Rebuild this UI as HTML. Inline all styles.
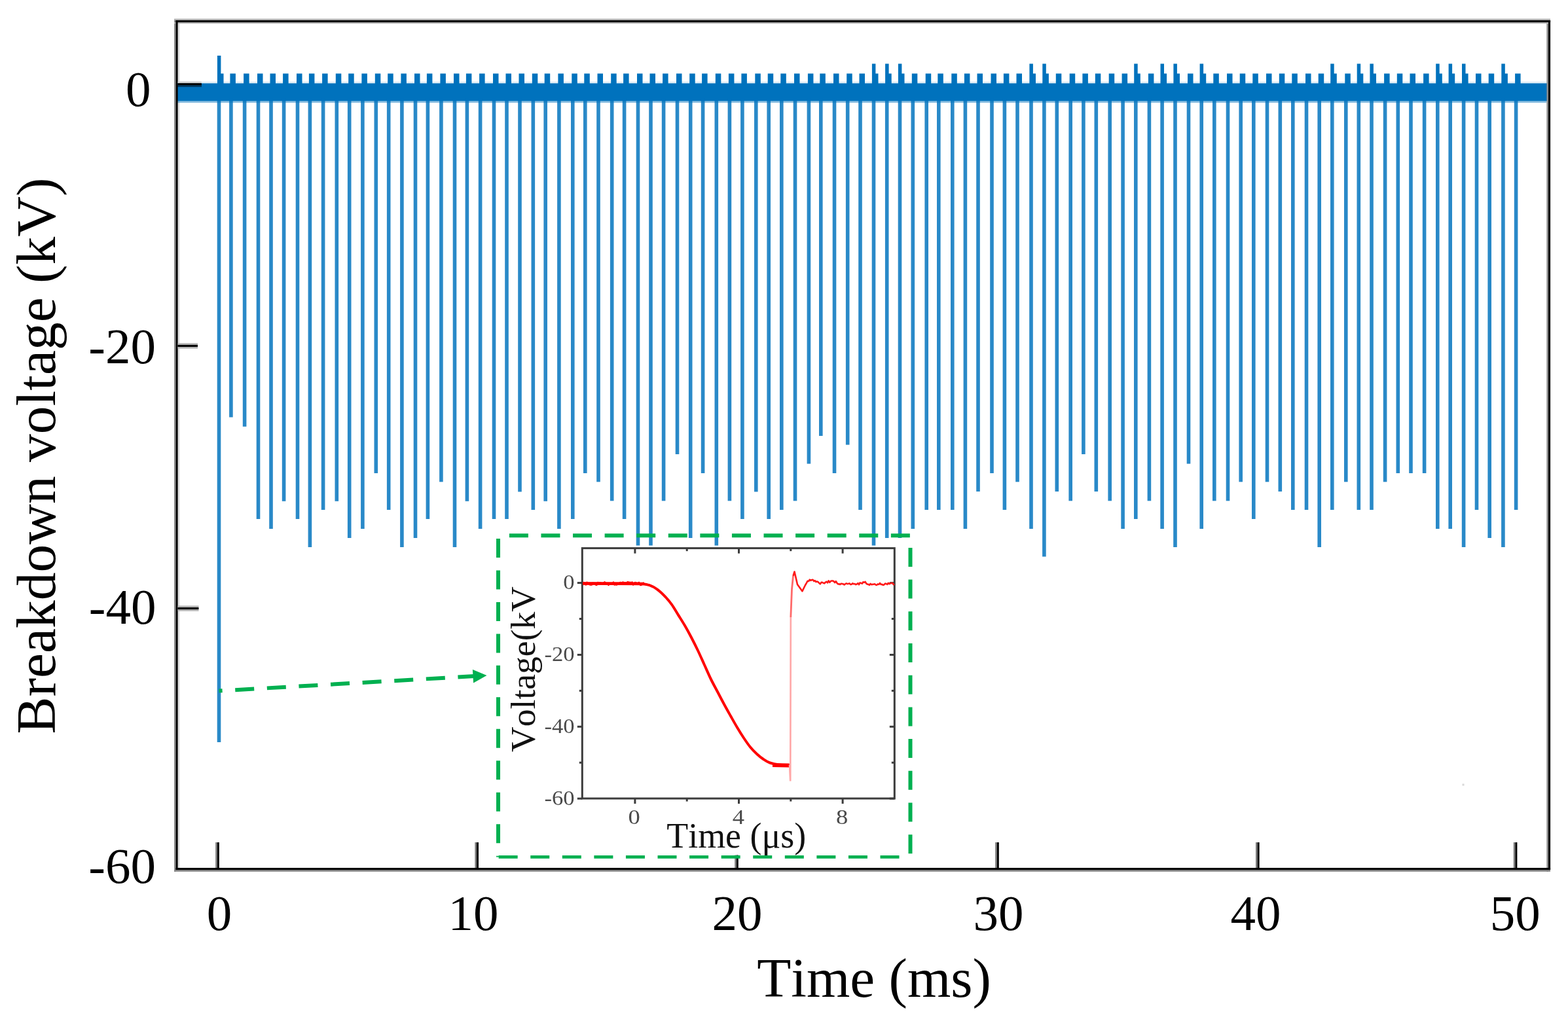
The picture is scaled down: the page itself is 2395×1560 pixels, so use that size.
<!DOCTYPE html>
<html><head><meta charset="utf-8"><title>Breakdown voltage vs time</title>
<style>
html,body{margin:0;padding:0;background:#fff;}
svg{display:block;}
text{font-family:"Liberation Serif","Times New Roman",serif;font-kerning:none;}
</style></head><body>
<svg width="2395" height="1560" viewBox="0 0 2395 1560">
<rect x="0" y="0" width="2395" height="1560" fill="#fff"/>
<rect x="271.6" y="36" width="2.8" height="1290" fill="#dedede"/>
<g fill="#0072BD">
<rect x="271" y="127.3" width="2094" height="27.2"/>
<rect x="271" y="154.5" width="2091" height="2.6" opacity="0.45"/>
<rect x="271" y="124.6" width="2091" height="2.7" opacity="0.12"/>
<rect x="331.7" y="150" width="5.6" height="984" opacity="0.84"/><rect x="333" y="112.4" width="8.5" height="16"/><rect x="331.9" y="85" width="5.5" height="44"/>
<rect x="350.1" y="150" width="5.6" height="487.5" opacity="0.84"/><rect x="351.4" y="112.4" width="8.5" height="16"/>
<rect x="370.8" y="150" width="5.6" height="501.8" opacity="0.84"/><rect x="372.1" y="112.4" width="8.5" height="16"/>
<rect x="391.7" y="150" width="5.6" height="643" opacity="0.84"/><rect x="393" y="112.4" width="8.5" height="16"/>
<rect x="411.2" y="150" width="5.6" height="658" opacity="0.84"/><rect x="412.5" y="112.4" width="8.5" height="16"/>
<rect x="430.8" y="150" width="5.6" height="615.8" opacity="0.84"/><rect x="432.1" y="112.4" width="8.5" height="16"/>
<rect x="451.7" y="150" width="5.6" height="643" opacity="0.84"/><rect x="453" y="112.4" width="8.5" height="16"/>
<rect x="470.6" y="150" width="5.6" height="686" opacity="0.84"/><rect x="471.9" y="112.4" width="8.5" height="16"/>
<rect x="490.8" y="150" width="5.6" height="629" opacity="0.84"/><rect x="492.1" y="112.4" width="8.5" height="16"/>
<rect x="511.5" y="150" width="5.6" height="615.8" opacity="0.84"/><rect x="512.8" y="112.4" width="8.5" height="16"/>
<rect x="530.9" y="150" width="5.6" height="672" opacity="0.84"/><rect x="532.2" y="112.4" width="8.5" height="16"/>
<rect x="551.1" y="150" width="5.6" height="658" opacity="0.84"/><rect x="552.4" y="112.4" width="8.5" height="16"/>
<rect x="571.5" y="150" width="5.6" height="573" opacity="0.84"/><rect x="572.8" y="112.4" width="8.5" height="16"/>
<rect x="590.9" y="150" width="5.6" height="629" opacity="0.84"/><rect x="592.2" y="112.4" width="8.5" height="16"/>
<rect x="611.1" y="150" width="5.6" height="686" opacity="0.84"/><rect x="612.4" y="112.4" width="8.5" height="16"/>
<rect x="631.7" y="150" width="5.6" height="672" opacity="0.84"/><rect x="633" y="112.4" width="8.5" height="16"/>
<rect x="650.6" y="150" width="5.6" height="643" opacity="0.84"/><rect x="651.9" y="112.4" width="8.5" height="16"/>
<rect x="671.1" y="150" width="5.6" height="586.3" opacity="0.84"/><rect x="672.4" y="112.4" width="8.5" height="16"/>
<rect x="691.7" y="150" width="5.6" height="686" opacity="0.84"/><rect x="693" y="112.4" width="8.5" height="16"/>
<rect x="710.6" y="150" width="5.6" height="615.8" opacity="0.84"/><rect x="711.9" y="112.4" width="8.5" height="16"/>
<rect x="730.8" y="150" width="5.6" height="658" opacity="0.84"/><rect x="732.1" y="112.4" width="8.5" height="16"/>
<rect x="751.7" y="150" width="5.6" height="643" opacity="0.84"/><rect x="753" y="112.4" width="8.5" height="16"/>
<rect x="771.2" y="150" width="5.6" height="643" opacity="0.84"/><rect x="772.5" y="112.4" width="8.5" height="16"/>
<rect x="791.2" y="150" width="5.6" height="601.4" opacity="0.84"/><rect x="792.5" y="112.4" width="8.5" height="16"/>
<rect x="811.5" y="150" width="5.6" height="629" opacity="0.84"/><rect x="812.8" y="112.4" width="8.5" height="16"/>
<rect x="830.4" y="150" width="5.6" height="615.8" opacity="0.84"/><rect x="831.7" y="112.4" width="8.5" height="16"/>
<rect x="851.1" y="150" width="5.6" height="658" opacity="0.84"/><rect x="852.4" y="112.4" width="8.5" height="16"/>
<rect x="872" y="150" width="5.6" height="643" opacity="0.84"/><rect x="873.3" y="112.4" width="8.5" height="16"/>
<rect x="891" y="150" width="5.6" height="573" opacity="0.84"/><rect x="892.3" y="112.4" width="8.5" height="16"/>
<rect x="911.2" y="150" width="5.6" height="586.3" opacity="0.84"/><rect x="912.5" y="112.4" width="8.5" height="16"/>
<rect x="931.9" y="150" width="5.6" height="615.3" opacity="0.84"/><rect x="933.2" y="112.4" width="8.5" height="16"/>
<rect x="950.8" y="150" width="5.6" height="643" opacity="0.84"/><rect x="952.1" y="112.4" width="8.5" height="16"/>
<rect x="971.7" y="150" width="5.6" height="700" opacity="0.84"/><rect x="973" y="112.4" width="8.5" height="16"/>
<rect x="991.2" y="150" width="5.6" height="700" opacity="0.84"/><rect x="992.5" y="112.4" width="8.5" height="16"/>
<rect x="1010.8" y="150" width="5.6" height="615.3" opacity="0.84"/><rect x="1012.1" y="112.4" width="8.5" height="16"/>
<rect x="1031.7" y="150" width="5.6" height="544" opacity="0.84"/><rect x="1033" y="112.4" width="8.5" height="16"/>
<rect x="1051.9" y="150" width="5.6" height="672" opacity="0.84"/><rect x="1053.2" y="112.4" width="8.5" height="16"/>
<rect x="1070.8" y="150" width="5.6" height="573" opacity="0.84"/><rect x="1072.1" y="112.4" width="8.5" height="16"/>
<rect x="1091.5" y="150" width="5.6" height="700" opacity="0.84"/><rect x="1092.8" y="112.4" width="8.5" height="16"/>
<rect x="1111.6" y="150" width="5.6" height="615.3" opacity="0.84"/><rect x="1112.9" y="112.4" width="8.5" height="16"/>
<rect x="1131.1" y="150" width="5.6" height="643" opacity="0.84"/><rect x="1132.4" y="112.4" width="8.5" height="16"/>
<rect x="1152" y="150" width="5.6" height="601.4" opacity="0.84"/><rect x="1153.3" y="112.4" width="8.5" height="16"/>
<rect x="1171.4" y="150" width="5.6" height="643" opacity="0.84"/><rect x="1172.7" y="112.4" width="8.5" height="16"/>
<rect x="1191" y="150" width="5.6" height="629" opacity="0.84"/><rect x="1192.3" y="112.4" width="8.5" height="16"/>
<rect x="1211.7" y="150" width="5.6" height="615.3" opacity="0.84"/><rect x="1213" y="112.4" width="8.5" height="16"/>
<rect x="1232.6" y="150" width="5.6" height="558.6" opacity="0.84"/><rect x="1233.9" y="112.4" width="8.5" height="16"/>
<rect x="1251" y="150" width="5.6" height="516" opacity="0.84"/><rect x="1252.3" y="112.4" width="8.5" height="16"/>
<rect x="1271.7" y="150" width="5.6" height="573" opacity="0.84"/><rect x="1273" y="112.4" width="8.5" height="16"/>
<rect x="1291.9" y="150" width="5.6" height="529.6" opacity="0.84"/><rect x="1293.2" y="112.4" width="8.5" height="16"/>
<rect x="1311.2" y="150" width="5.6" height="629" opacity="0.84"/><rect x="1312.5" y="112.4" width="8.5" height="16"/>
<rect x="1331.7" y="150" width="5.6" height="686" opacity="0.84"/><rect x="1333" y="112.4" width="8.5" height="16"/><rect x="1331.9" y="97.4" width="5.5" height="31"/>
<rect x="1351.9" y="150" width="5.6" height="672" opacity="0.84"/><rect x="1353.2" y="112.4" width="8.5" height="16"/><rect x="1352.1" y="97.4" width="5.5" height="31"/>
<rect x="1371.7" y="150" width="5.6" height="672" opacity="0.84"/><rect x="1373" y="112.4" width="8.5" height="16"/><rect x="1371.9" y="97.4" width="5.5" height="31"/>
<rect x="1391.5" y="150" width="5.6" height="658" opacity="0.84"/><rect x="1392.8" y="112.4" width="8.5" height="16"/>
<rect x="1412.4" y="150" width="5.6" height="629" opacity="0.84"/><rect x="1413.7" y="112.4" width="8.5" height="16"/>
<rect x="1431" y="150" width="5.6" height="629" opacity="0.84"/><rect x="1432.3" y="112.4" width="8.5" height="16"/>
<rect x="1452" y="150" width="5.6" height="629" opacity="0.84"/><rect x="1453.3" y="112.4" width="8.5" height="16"/>
<rect x="1471.6" y="150" width="5.6" height="658" opacity="0.84"/><rect x="1472.9" y="112.4" width="8.5" height="16"/>
<rect x="1491.2" y="150" width="5.6" height="601" opacity="0.84"/><rect x="1492.5" y="112.4" width="8.5" height="16"/>
<rect x="1512.2" y="150" width="5.6" height="573" opacity="0.84"/><rect x="1513.5" y="112.4" width="8.5" height="16"/>
<rect x="1531.6" y="150" width="5.6" height="629" opacity="0.84"/><rect x="1532.9" y="112.4" width="8.5" height="16"/>
<rect x="1551.2" y="150" width="5.6" height="586.3" opacity="0.84"/><rect x="1552.5" y="112.4" width="8.5" height="16"/>
<rect x="1572.2" y="150" width="5.6" height="658" opacity="0.84"/><rect x="1573.5" y="112.4" width="8.5" height="16"/><rect x="1572.4" y="97.4" width="5.5" height="31"/>
<rect x="1592.1" y="150" width="5.6" height="700.5" opacity="0.84"/><rect x="1593.4" y="112.4" width="8.5" height="16"/><rect x="1592.3" y="97.4" width="5.5" height="31"/>
<rect x="1611.5" y="150" width="5.6" height="601" opacity="0.84"/><rect x="1612.8" y="112.4" width="8.5" height="16"/>
<rect x="1632.4" y="150" width="5.6" height="615.3" opacity="0.84"/><rect x="1633.7" y="112.4" width="8.5" height="16"/>
<rect x="1652.1" y="150" width="5.6" height="544" opacity="0.84"/><rect x="1653.4" y="112.4" width="8.5" height="16"/>
<rect x="1671.5" y="150" width="5.6" height="601" opacity="0.84"/><rect x="1672.8" y="112.4" width="8.5" height="16"/>
<rect x="1692.4" y="150" width="5.6" height="615.3" opacity="0.84"/><rect x="1693.7" y="112.4" width="8.5" height="16"/>
<rect x="1712.3" y="150" width="5.6" height="658" opacity="0.84"/><rect x="1713.6" y="112.4" width="8.5" height="16"/>
<rect x="1732" y="150" width="5.6" height="643" opacity="0.84"/><rect x="1733.3" y="112.4" width="8.5" height="16"/><rect x="1732.2" y="97.4" width="5.5" height="31"/>
<rect x="1752.6" y="150" width="5.6" height="615.3" opacity="0.84"/><rect x="1753.9" y="112.4" width="8.5" height="16"/>
<rect x="1772.3" y="150" width="5.6" height="658" opacity="0.84"/><rect x="1773.6" y="112.4" width="8.5" height="16"/><rect x="1772.5" y="97.4" width="5.5" height="31"/>
<rect x="1792.2" y="150" width="5.6" height="686" opacity="0.84"/><rect x="1793.5" y="112.4" width="8.5" height="16"/><rect x="1792.4" y="97.4" width="5.5" height="31"/>
<rect x="1812.7" y="150" width="5.6" height="558.6" opacity="0.84"/><rect x="1814" y="112.4" width="8.5" height="16"/>
<rect x="1832.4" y="150" width="5.6" height="658" opacity="0.84"/><rect x="1833.7" y="112.4" width="8.5" height="16"/><rect x="1832.6" y="97.4" width="5.5" height="31"/>
<rect x="1852" y="150" width="5.6" height="615.3" opacity="0.84"/><rect x="1853.3" y="112.4" width="8.5" height="16"/>
<rect x="1872.7" y="150" width="5.6" height="615.3" opacity="0.84"/><rect x="1874" y="112.4" width="8.5" height="16"/>
<rect x="1892.4" y="150" width="5.6" height="586.3" opacity="0.84"/><rect x="1893.7" y="112.4" width="8.5" height="16"/>
<rect x="1912" y="150" width="5.6" height="643" opacity="0.84"/><rect x="1913.3" y="112.4" width="8.5" height="16"/>
<rect x="1932.7" y="150" width="5.6" height="586.3" opacity="0.84"/><rect x="1934" y="112.4" width="8.5" height="16"/>
<rect x="1952.5" y="150" width="5.6" height="601" opacity="0.84"/><rect x="1953.8" y="112.4" width="8.5" height="16"/>
<rect x="1972" y="150" width="5.6" height="629" opacity="0.84"/><rect x="1973.3" y="112.4" width="8.5" height="16"/>
<rect x="1992.7" y="150" width="5.6" height="629" opacity="0.84"/><rect x="1994" y="112.4" width="8.5" height="16"/>
<rect x="2012.4" y="150" width="5.6" height="686" opacity="0.84"/><rect x="2013.7" y="112.4" width="8.5" height="16"/>
<rect x="2032" y="150" width="5.6" height="629" opacity="0.84"/><rect x="2033.3" y="112.4" width="8.5" height="16"/><rect x="2032.2" y="97.4" width="5.5" height="31"/>
<rect x="2053" y="150" width="5.6" height="586.3" opacity="0.84"/><rect x="2054.3" y="112.4" width="8.5" height="16"/>
<rect x="2072.5" y="150" width="5.6" height="629" opacity="0.84"/><rect x="2073.8" y="112.4" width="8.5" height="16"/><rect x="2072.7" y="97.4" width="5.5" height="31"/>
<rect x="2092.2" y="150" width="5.6" height="629" opacity="0.84"/><rect x="2093.5" y="112.4" width="8.5" height="16"/><rect x="2092.4" y="97.4" width="5.5" height="31"/>
<rect x="2112.8" y="150" width="5.6" height="586.3" opacity="0.84"/><rect x="2114.1" y="112.4" width="8.5" height="16"/>
<rect x="2132.5" y="150" width="5.6" height="573" opacity="0.84"/><rect x="2133.8" y="112.4" width="8.5" height="16"/>
<rect x="2152.2" y="150" width="5.6" height="573" opacity="0.84"/><rect x="2153.5" y="112.4" width="8.5" height="16"/>
<rect x="2172.8" y="150" width="5.6" height="573" opacity="0.84"/><rect x="2174.1" y="112.4" width="8.5" height="16"/>
<rect x="2193" y="150" width="5.6" height="658" opacity="0.84"/><rect x="2194.3" y="112.4" width="8.5" height="16"/><rect x="2193.2" y="97.4" width="5.5" height="31"/>
<rect x="2212.4" y="150" width="5.6" height="658" opacity="0.84"/><rect x="2213.7" y="112.4" width="8.5" height="16"/><rect x="2212.6" y="97.4" width="5.5" height="31"/>
<rect x="2232.8" y="150" width="5.6" height="686" opacity="0.84"/><rect x="2234.1" y="112.4" width="8.5" height="16"/><rect x="2233" y="97.4" width="5.5" height="31"/>
<rect x="2252.7" y="150" width="5.6" height="629" opacity="0.84"/><rect x="2254" y="112.4" width="8.5" height="16"/>
<rect x="2272.4" y="150" width="5.6" height="672" opacity="0.84"/><rect x="2273.7" y="112.4" width="8.5" height="16"/>
<rect x="2293.1" y="150" width="5.6" height="686" opacity="0.84"/><rect x="2294.4" y="112.4" width="8.5" height="16"/><rect x="2293.3" y="97.4" width="5.5" height="31"/>
<rect x="2312.8" y="150" width="5.6" height="629" opacity="0.84"/><rect x="2314.1" y="112.4" width="8.5" height="16"/>
</g>
<rect x="271" y="130.3" width="37" height="2.6" fill="#003a62"/>
<g fill="#8a8a8a">
<rect x="266" y="30" width="2.6" height="1302"/><rect x="2362.4" y="30" width="2.6" height="1302"/><rect x="266" y="1329" width="2102" height="2.8"/><rect x="266" y="28.6" width="2102" height="2.4" fill="#b0b0b0"/><rect x="266" y="34" width="2102" height="2.2" fill="#b8b8b8"/>
</g>
<g fill="#000">
<rect x="268.5" y="31" width="3.1" height="1298"/><rect x="2365" y="31" width="3.1" height="1298"/><rect x="268.5" y="1326" width="2099.6" height="3.1"/><rect x="268.5" y="31" width="2099.6" height="3.1"/>
</g>
<rect x="271.6" y="524.3" width="30.4" height="2.6" fill="#b4b4b4"/><rect x="271.6" y="530" width="30.4" height="2.6" fill="#b4b4b4"/><rect x="271.6" y="526.9" width="30.4" height="3.1" fill="#000"/>
<rect x="271.6" y="925.45" width="31.9" height="2.6" fill="#b4b4b4"/><rect x="271.6" y="931.15" width="31.9" height="2.6" fill="#b4b4b4"/><rect x="271.6" y="928.05" width="31.9" height="3.1" fill="#000"/>
<rect x="271.6" y="124.5" width="36" height="2.6" fill="#cfcfcf"/><rect x="271.6" y="127.1" width="36.3" height="3.2" fill="#000"/>
<rect x="329.2" y="1287" width="2.6" height="39" fill="#7a7a7a"/><rect x="331.8" y="1287" width="3" height="39" fill="#000"/>
<rect x="725.4" y="1287" width="2.6" height="39" fill="#7a7a7a"/><rect x="728" y="1287" width="3" height="39" fill="#000"/>
<rect x="1122.2" y="1287" width="2.6" height="39" fill="#7a7a7a"/><rect x="1124.8" y="1287" width="3" height="39" fill="#000"/>
<rect x="1520.2" y="1287" width="2.6" height="39" fill="#7a7a7a"/><rect x="1522.8" y="1287" width="3" height="39" fill="#000"/>
<rect x="1918" y="1287" width="2.6" height="39" fill="#7a7a7a"/><rect x="1920.6" y="1287" width="3" height="39" fill="#000"/>
<rect x="2311.8" y="1287" width="2.6" height="39" fill="#7a7a7a"/><rect x="2314.4" y="1287" width="3" height="39" fill="#000"/>
<g font-size="77" fill="#000">
<text x="230.5" y="161.5" text-anchor="end">0</text>
<text x="238" y="554.8" text-anchor="end">-20</text>
<text x="238.4" y="953.2" text-anchor="end">-40</text>
<text x="238" y="1348.6" text-anchor="end">-60</text>
<text x="334.9" y="1421" text-anchor="middle">0</text>
<text x="722.9" y="1421" text-anchor="middle">10</text>
<text x="1126" y="1421" text-anchor="middle">20</text>
<text x="1525.1" y="1421" text-anchor="middle">30</text>
<text x="1917.9" y="1421" text-anchor="middle">40</text>
<text x="2314.2" y="1421" text-anchor="middle">50</text>
</g>
<text x="1156.2" y="1523.4" font-size="85.3">Time (ms)</text>
<text transform="translate(84.2,1121.5) rotate(-90)" font-size="85.5">Breakdown voltage (kV)</text>
<rect x="772" y="833.5" width="612" height="473" fill="#fff"/>
<g stroke="#3c3c3c" fill="none" stroke-width="3">
<rect x="889.3" y="837.6" width="477" height="382.4"/>
<line x1="881.8" y1="890.6" x2="889.3" y2="890.6"/><line x1="1358.8" y1="890.6" x2="1366.3" y2="890.6"/>
<line x1="884.8" y1="945.52" x2="889.3" y2="945.52"/><line x1="1361.8" y1="945.52" x2="1366.3" y2="945.52"/>
<line x1="881.8" y1="1000.45" x2="889.3" y2="1000.45"/><line x1="1358.8" y1="1000.45" x2="1366.3" y2="1000.45"/>
<line x1="884.8" y1="1055.38" x2="889.3" y2="1055.38"/><line x1="1361.8" y1="1055.38" x2="1366.3" y2="1055.38"/>
<line x1="881.8" y1="1110.3" x2="889.3" y2="1110.3"/><line x1="1358.8" y1="1110.3" x2="1366.3" y2="1110.3"/>
<line x1="884.8" y1="1165.22" x2="889.3" y2="1165.22"/><line x1="1361.8" y1="1165.22" x2="1366.3" y2="1165.22"/>
<line x1="881.8" y1="1220.15" x2="889.3" y2="1220.15"/><line x1="1358.8" y1="1220.15" x2="1366.3" y2="1220.15"/>
<line x1="969.9" y1="1220" x2="969.9" y2="1228"/><line x1="969.9" y1="837.6" x2="969.9" y2="845.6"/>
<line x1="1049.2" y1="1220" x2="1049.2" y2="1224.5"/><line x1="1049.2" y1="837.6" x2="1049.2" y2="842.1"/>
<line x1="1128.5" y1="1220" x2="1128.5" y2="1228"/><line x1="1128.5" y1="837.6" x2="1128.5" y2="845.6"/>
<line x1="1207.8" y1="1220" x2="1207.8" y2="1224.5"/><line x1="1207.8" y1="837.6" x2="1207.8" y2="842.1"/>
<line x1="1287.1" y1="1220" x2="1287.1" y2="1228"/><line x1="1287.1" y1="837.6" x2="1287.1" y2="845.6"/>
</g>
<path d="M890 891.6 C901.67 891.6 945 891.5 960 891.6 C975 891.7 974.67 891.77 980 892.2 C985.33 892.63 988 892.8 992 894.2 C996 895.6 1000 897.7 1004 900.6 C1008 903.5 1012.33 907.77 1016 911.6 C1019.67 915.43 1022.67 918.93 1026 923.6 C1029.33 928.27 1032.67 934.23 1036 939.6 C1039.33 944.97 1042.67 950.07 1046 955.8 C1049.33 961.53 1052.67 967.63 1056 974 C1059.33 980.37 1062.67 987 1066 994 C1069.33 1001 1072.67 1008.67 1076 1016 C1079.33 1023.33 1082.67 1031.17 1086 1038 C1089.33 1044.83 1092.67 1050.67 1096 1057 C1099.33 1063.33 1102.67 1069.83 1106 1076 C1109.33 1082.17 1112.67 1088.08 1116 1094 C1119.33 1099.92 1122.67 1105.92 1126 1111.5 C1129.33 1117.08 1132.67 1122.5 1136 1127.5 C1139.33 1132.5 1142.67 1137.42 1146 1141.5 C1149.33 1145.58 1152.67 1148.92 1156 1152 C1159.33 1155.08 1162.67 1157.75 1166 1160 C1169.33 1162.25 1172 1164.07 1176 1165.5 C1180 1166.93 1185.08 1167.97 1190 1168.6 C1194.92 1169.23 1202.92 1169.18 1205.5 1169.3" fill="none" stroke="#ff0000" stroke-width="4" stroke-linejoin="round"/>
<path d="M890 891.6 L982 892" fill="none" stroke="#ff0000" stroke-width="4.5"/>
<path d="M1180 1169 L1205.5 1169.5" fill="none" stroke="#ff0000" stroke-width="6"/>
<path d="M1206 1169 L1207.2 1193.5 L1207.8 943" fill="none" stroke="#ffa8a8" stroke-width="2.6"/>
<path d="M1207.8 943 L1209.5 900 L1211.5 880" fill="none" stroke="#ff6a6a" stroke-width="2.8"/>
<path d="M1211.5 880 L1213.5 873.5 L1218 893 L1225.4 903.3 L1230 894 L1232 890.55 L1233.6 887.68 L1235.2 887.85 L1236.8 885.71 L1238.4 886.89 L1240 886.11 L1241.6 885.84 L1243.2 887.98 L1244.8 887.19 L1246.4 889.14 L1248 888.57 L1249.6 889.23 L1251.2 890.89 L1252.8 892.42 L1254.4 889.84 L1256 889.82 L1257.6 890.75 L1259.2 891.34 L1260.8 889.73 L1262.4 888.72 L1264 890.46 L1265.6 887.4 L1267.2 889.92 L1268.8 888.02 L1270.4 887.48 L1272 887.49 L1273.6 888.26 L1275.2 890.04 L1276.8 888.16 L1278.4 890.78 L1280 892.47 L1281.6 892.25 L1283.2 893.05 L1284.8 891.73 L1286.4 891.96 L1288 892.37 L1289.6 893.45 L1291.2 892.2 L1292.8 891.4 L1294.4 892.13 L1296 891.8 L1297.6 891.41 L1299.2 893.09 L1300.8 892.8 L1302.4 891.28 L1304 892.27 L1305.6 892.04 L1307.2 893.1 L1308.8 892.56 L1310.4 891.08 L1312 893.23 L1313.6 890.4 L1315.2 891.04 L1316.8 891.66 L1318.4 889.25 L1320 889.85 L1321.6 888.91 L1323.2 891.65 L1324.8 892.68 L1326.4 892.79 L1328 893.79 L1329.6 891.97 L1331.2 893.17 L1332.8 892.83 L1334.4 892.77 L1336 892.36 L1337.6 893.57 L1339.2 893.89 L1340.8 892.36 L1342.4 892.95 L1344 891 L1345.6 893.04 L1347.2 892.85 L1348.8 893.94 L1350.4 893.38 L1352 891.64 L1353.6 891.95 L1355.2 892.84 L1356.8 890.76 L1358.4 892.15 L1360 891.19 L1361.6 891.02 L1363.2 890.82 L1364.8 893.07 L1366 892.2" fill="none" stroke="#ff1a1a" stroke-width="2.6" stroke-linejoin="round"/>
<path d="M890.5 889.92 L892 890.49 L893.5 891.18 L895 893.48 L896.5 889.69 L898 891.46 L899.5 891.94 L901 893.54 L902.5 893.23 L904 893.45 L905.5 890.64 L907 891.29 L908.5 891.02 L910 893.54 L911.5 893.9 L913 890.02 L914.5 890.15 L916 890.41 L917.5 890.42 L919 891.63 L920.5 892.13 L922 890.56 L923.5 889.32 L925 891.31 L926.5 891.07 L928 892.02 L929.5 893.87 L931 892.61 L932.5 891.77 L934 892.26 L935.5 892.55 L937 889.56 L938.5 893.62 L940 893.04 L941.5 893.5 L943 893.13 L944.5 891.18 L946 891.22 L947.5 889.8 L949 892.34 L950.5 889.6 L952 889.62 L953.5 890.3 L955 890.08 L956.5 890.93 L958 889.55 L959.5 889.3 L961 890.03 L962.5 889.79 L964 891.05 L965.5 889.42 L967 893.5 L968.5 892.25 L970 890.01 L971.5 890.51 L973 890.97 L974.5 891.05 L976 889.89 L977.5 893.37 L979 894.07 L980.5 891.54 L982 891.62 L983.5 889.71" fill="none" stroke="#ff0000" stroke-width="2.4" stroke-linejoin="round"/>
<g fill="#4a4a4a" font-size="31.5">
<text transform="translate(877.6,900) scale(1.1,1)" text-anchor="end">0</text>
<text transform="translate(877.6,1010.4) scale(1.1,1)" text-anchor="end">-20</text>
<text transform="translate(877.6,1120.2) scale(1.1,1)" text-anchor="end">-40</text>
<text transform="translate(877.6,1229.8) scale(1.1,1)" text-anchor="end">-60</text>
<text transform="translate(968.6,1258.6) scale(1.16,1)" text-anchor="middle">0</text>
<text transform="translate(1127.9,1258.6) scale(1.16,1)" text-anchor="middle">4</text>
<text transform="translate(1286.2,1258.6) scale(1.16,1)" text-anchor="middle">8</text>
</g>
<text x="1018.3" y="1294.8" font-size="53.9" fill="#111">Time (μs)</text>
<text transform="translate(817.2,1149) rotate(-90)" font-size="53.6" fill="#111">Voltage(kV</text>
<g stroke="#00B050" stroke-width="6" fill="none">
<line x1="761" y1="818.2" x2="1390.5" y2="818.2" stroke-dasharray="29 19.58" stroke-dashoffset="31.7"/>
<line x1="761" y1="818.2" x2="761" y2="1309.5" stroke-dasharray="29 19.47" stroke-dashoffset="43.7"/>
<line x1="1390.5" y1="818.2" x2="1390.5" y2="1309.5" stroke-dasharray="29 19.7" stroke-dashoffset="30"/>
<line x1="761" y1="1309.4" x2="1390.5" y2="1309.4" stroke-width="4.8" stroke-dasharray="29 19.57" stroke-dashoffset="47.9"/>
<line x1="334.5" y1="1055.6" x2="725" y2="1033.1" stroke-dasharray="29 19.68" stroke-dashoffset="23.9"/>
</g>
<polygon points="721.9,1023 723.1,1043.6 743.5,1032.1" fill="#00B050"/>
<rect x="2233.5" y="1197.5" width="3" height="3" fill="#d8d8d8"/>
</svg>
</body></html>
